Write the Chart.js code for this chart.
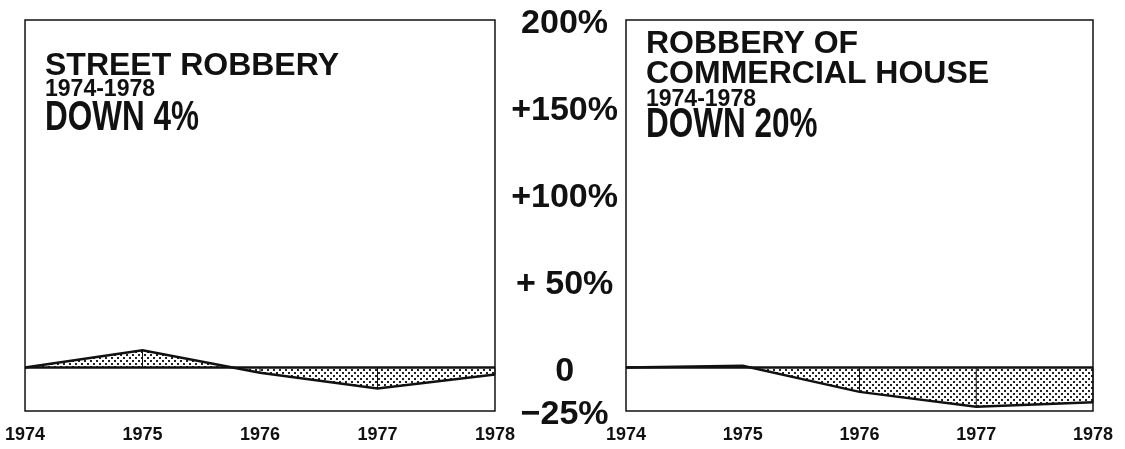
<!DOCTYPE html>
<html>
<head>
<meta charset="utf-8">
<script src="https://cdn.jsdelivr.net/npm/chart.js@4"></script>
<style>
body { margin: 0; background: #fff; width: 1125px; height: 449px; position: relative; overflow: hidden; }
#left { position: absolute; left: 0; top: 0; }
#right { position: absolute; left: 500px; top: 0; }
</style>
</head>
<body>
<canvas id="left" width="520" height="449"></canvas>
<canvas id="right" width="625" height="449"></canvas>
<script>
// percent change vs 1974
const years = ['1974', '1975', '1976', '1977', '1978'];
const streetRobbery = [0, 10, -3, -12, -4];
const commercialRobbery = [0, 1, -14, -22.5, -20];
const yTicks = [200, 150, 100, 50, 0, -25];
const yTickLabels = ['200%', '+150%', '+100%', '+ 50%', '0', '\u221225%'];

const FONT = '"Liberation Sans", Arial, Helvetica, sans-serif';

function stipple() {
    let c = document.createElement('canvas');
    c.width = 6; c.height = 6;
    let g = c.getContext('2d');
    g.fillStyle = '#fff';
    g.fillRect(0, 0, 6, 6);
    g.fillStyle = '#222';
    g.fillRect(0, 0, 2, 2);
    g.fillRect(3, 3, 2, 2);
    return g.createPattern(c, 'repeat');
}

const panelPlugin = {
    id: 'panel',
    afterDatasetsDraw(chart, args, opts) {
        const ctx = chart.ctx;
        const a = chart.chartArea;
        const x = chart.scales.x, y = chart.scales.y;
        const y0 = y.getPixelForValue(0);
        ctx.save();
        ctx.strokeStyle = '#111';
        // drop lines from zero to each year's value
        ctx.lineWidth = 1;
        chart.data.datasets[0].data.forEach((v, i) => {
            let px = x.getPixelForValue(i);
            ctx.beginPath();
            ctx.moveTo(px, y0);
            ctx.lineTo(px, y.getPixelForValue(v));
            ctx.stroke();
        });
        // zero line
        ctx.lineWidth = 2.5;
        ctx.beginPath();
        ctx.moveTo(a.left, y0);
        ctx.lineTo(a.right, y0);
        ctx.stroke();
        // frame
        ctx.lineWidth = 1.5;
        ctx.strokeRect(a.left, a.top, a.right - a.left, a.bottom - a.top);
        // heading text inside the box
        ctx.fillStyle = '#111';
        ctx.textBaseline = 'alphabetic';
        ctx.textAlign = 'left';
        opts.lines.forEach(l => {
            ctx.save();
            ctx.translate(a.left + 20, l.y);
            ctx.scale(l.sx || 1, 1);
            ctx.font = 'bold ' + l.size + 'px ' + FONT;
            ctx.fillText(l.text, 0, 0);
            ctx.restore();
        });
        ctx.restore();
    }
};

function makePanel(id, values, showAxis, padding, lines) {
    return new Chart(document.getElementById(id), {
        type: 'line',
        data: {
            labels: years,
            datasets: [{
                data: values,
                borderColor: '#111',
                borderWidth: 2.5,
                backgroundColor: stipple(),
                fill: { value: 0 },
                tension: 0,
                pointRadius: 0
            }]
        },
        options: {
            responsive: false,
            animation: false,
            layout: { padding: padding },
            plugins: {
                legend: { display: false },
                tooltip: { enabled: false },
                panel: { lines: lines }
            },
            scales: {
                x: {
                    offset: false,
                    grid: { display: false },
                    border: { display: false },
                    ticks: {
                        autoSkip: false,
                        maxRotation: 0,
                        padding: 5,
                        color: '#111',
                        font: { family: FONT, size: 18, weight: 'bold' }
                    },
                    afterFit: s => { s.height = 38; }
                },
                y: {
                    display: showAxis,
                    min: -25,
                    max: 200,
                    grid: { display: false, drawTicks: false },
                    border: { display: false },
                    afterBuildTicks: s => { s.ticks = yTicks.map(v => ({ value: v })); },
                    afterFit: s => {
                        s.width = showAxis ? 126 : 0;
                        s.paddingTop = 0;
                        s.paddingBottom = 0;
                    },
                    ticks: {
                        crossAlign: 'center',
                        padding: 8,
                        labelOffset: 4,
                        color: '#111',
                        font: { family: FONT, size: 34, weight: 'bold' },
                        callback: v => yTickLabels[yTicks.indexOf(v)]
                    }
                }
            }
        },
        plugins: [panelPlugin]
    });
}

makePanel('left', streetRobbery, false, { left: 23, top: 20, right: 25, bottom: 0 }, [
    { text: 'STREET ROBBERY', size: 32, y: 75 },
    { text: '1974-1978', size: 23, y: 96 },
    { text: 'DOWN 4%', size: 42, sx: 0.75, y: 130 }
]);

makePanel('right', commercialRobbery, true, { left: 0, top: 20, right: 32, bottom: 0 }, [
    { text: 'ROBBERY OF', size: 32, y: 53 },
    { text: 'COMMERCIAL HOUSE', size: 32, y: 83 },
    { text: '1974-1978', size: 23, y: 106 },
    { text: 'DOWN 20%', size: 42, sx: 0.75, y: 137 }
]);
</script>
</body>
</html>
